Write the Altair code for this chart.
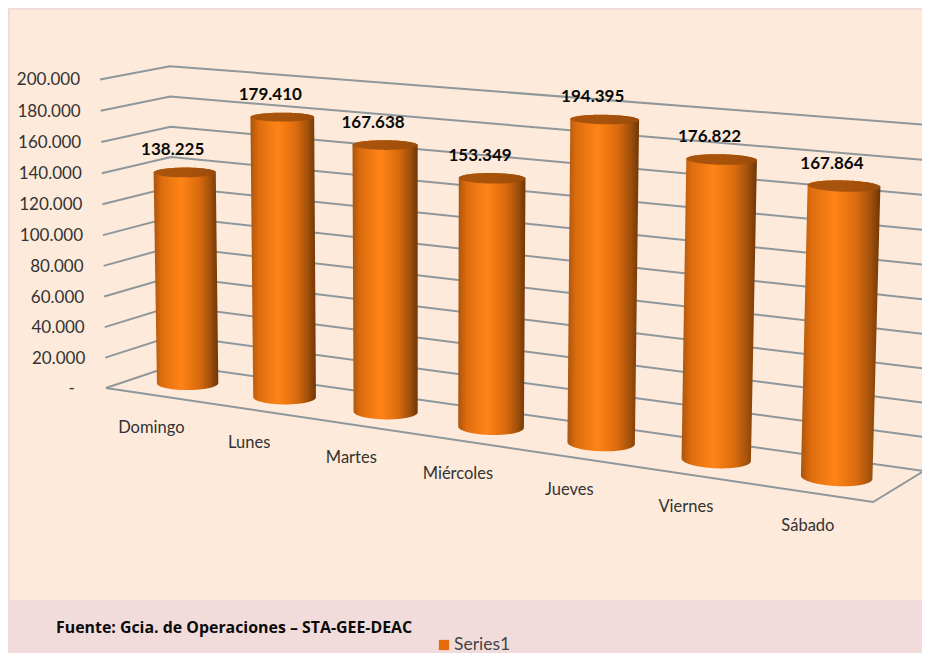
import altair as alt
import numpy as np
import pandas as pd

categories = ["Domingo", "Lunes", "Martes", "Miércoles", "Jueves", "Viernes", "Sábado"]
values = [138225, 179410, 167638, 153349, 194395, 176822, 167864]
value_labels = ["138.225", "179.410", "167.638", "153.349", "194.395", "176.822", "167.864"]
tick_values = [0, 20000, 40000, 60000, 80000, 100000, 120000, 140000, 160000, 180000, 200000]
tick_labels = ["-", "20.000", "40.000", "60.000", "80.000", "100.000", "120.000", "140.000", "160.000", "180.000", "200.000"]
source_text = "Fuente: Gcia. de Operaciones – STA-GEE-DEAC"
legend_text = "Series1"

W, H = 914, 645
PAGE = 8

# Box corners of the 3D scene: (category pos, value, depth) -> picture position
box = [
    ((0, 0, 0), (108, 387)), ((0, 200000, 0), (98, 79.5)),
    ((0, 0, 1), (172, 366)), ((0, 200000, 1), (172, 66)),
    ((7, 0, 1), (924, 470)), ((7, 200000, 1), (934, 125.5)),
    ((7, 0, 0), (873, 503)),
]
rows, rhs = [], []
for (u, v, w), (px, py) in box:
    p = [u, v / 200000, w, 1]
    rows.append(p + [0, 0, 0, 0] + [-px * c for c in p[:3]])
    rhs.append(px)
    rows.append([0, 0, 0, 0] + p + [-py * c for c in p[:3]])
    rhs.append(py)
sol = np.linalg.lstsq(np.array(rows, float), np.array(rhs, float), rcond=None)[0]
M = np.append(sol, 1).reshape(3, 4)


def project(u, v, w):
    u, v, w = np.broadcast_arrays(np.asarray(u, float), np.asarray(v, float) / 200000, np.asarray(w, float))
    q = np.stack([u, v, w, np.ones_like(u)])
    r = M @ q.reshape(4, -1)
    return (r[0] / r[2]).reshape(u.shape), (r[1] / r[2]).reshape(u.shape)


X = alt.X("x:Q", scale=alt.Scale(domain=[PAGE, PAGE + W], range=[0, W]), axis=None)
Y = alt.Y("y:Q", scale=alt.Scale(domain=[PAGE + H, PAGE], range=[H, 0]), axis=None)

layers = []

# panel
panel = pd.DataFrame({"x": [10], "x2": [PAGE + W], "y": [10], "y2": [600]})
layers.append(alt.Chart(panel).mark_rect(color="#FDEADA").encode(X, Y, x2="x2:Q", y2="y2:Q"))

# gridlines
GRID = "#8E979B"
rec = []
for t in tick_values:
    for k, (u, w) in enumerate([(0, 0), (0, 1), (7, 1)]):
        px, py = project(u, t, w)
        rec.append({"x": float(px), "y": float(py), "t": t, "k": k})
for k, (u, w) in enumerate([(0, 0), (7, 0), (7, 1)]):
    px, py = project(u, 0, w)
    rec.append({"x": float(px), "y": float(py), "t": -1, "k": k})
layers.append(
    alt.Chart(pd.DataFrame(rec))
    .mark_line(color=GRID, strokeWidth=2, clip=True)
    .encode(X, Y, detail="t:N", order="k:Q")
)

body_grad = alt.LinearGradient(
    gradient="linear", x1=0, x2=1, y1=0, y2=0,
    stops=[
        alt.GradientStop(offset=0, color="#A9540D"),
        alt.GradientStop(offset=0.12, color="#DD6C0E"),
        alt.GradientStop(offset=0.42, color="#FF8417"),
        alt.GradientStop(offset=0.7, color="#DB6B0E"),
        alt.GradientStop(offset=0.88, color="#A0500C"),
        alt.GradientStop(offset=1, color="#6E3607"),
    ],
)
cap_grad = alt.LinearGradient(
    gradient="linear", x1=0, x2=1, y1=0, y2=0,
    stops=[
        alt.GradientStop(offset=0, color="#A9530C"),
        alt.GradientStop(offset=0.5, color="#A8530B"),
        alt.GradientStop(offset=1, color="#9A4B0A"),
    ],
)


def span(poly_x, poly_y):
    pts = sorted(set(zip(np.round(poly_x, 3).tolist(), np.round(poly_y, 3).tolist())))

    def half(seq, sign):
        h = []
        for p in seq:
            while len(h) > 1:
                a, b = h[-2], h[-1]
                if sign * ((b[0] - a[0]) * (p[1] - a[1]) - (b[1] - a[1]) * (p[0] - a[0])) <= 0:
                    h.pop()
                else:
                    break
            h.append(p)
        return np.array(h)

    lo = half(pts, 1)
    hi = half(pts, -1)
    xs = np.unique(np.concatenate([lo[:, 0], hi[:, 0]]))
    return pd.DataFrame({
        "x": xs,
        "y": np.interp(xs, lo[:, 0], lo[:, 1]),
        "y2": np.interp(xs, hi[:, 0], hi[:, 1]),
    })


RU, RW = 0.27, 0.25
theta = np.linspace(0, 2 * np.pi, 121)
tops = []
for i, val in enumerate(values):
    cu = i + 0.5 + RU * np.cos(theta)
    cw = 0.5 + RW * np.sin(theta)
    bx, by = project(cu, 0, cw)
    tx, ty = project(cu, val, cw)
    layers.append(
        alt.Chart(span(np.r_[bx, tx], np.r_[by, ty]))
        .mark_area(color=body_grad, line=False)
        .encode(X, Y, y2="y2:Q")
    )
    layers.append(
        alt.Chart(span(tx, ty))
        .mark_area(color=cap_grad, line=False)
        .encode(X, Y, y2="y2:Q")
    )
    cx, cy = project(i + 0.5, val, 0.5)
    tops.append((float(cx), float(cy)))

# value labels
vl = pd.DataFrame({
    "x": [p[0] - 12 for p in tops],
    "y": [p[1] - 22 for p in tops],
    "t": value_labels,
})
layers.append(
    alt.Chart(vl)
    .mark_text(font="Lato", fontSize=17, fontWeight="bold", color="#0A0A0A")
    .encode(X, Y, text="t:N")
)

# value axis labels
fx, fy = project(0, np.array(tick_values), 0)
al = pd.DataFrame({
    "x": fx - np.where(np.array(tick_values) == 0, 31, 20),
    "y": fy + 1,
    "t": tick_labels,
})
layers.append(
    alt.Chart(al)
    .mark_text(font="Lato", fontSize=17, color="#333333", align="right")
    .encode(X, Y, text="t:N")
)

# category labels
cx, cy = project(np.arange(7) + 0.5, 0, 0)
cl = pd.DataFrame({"x": cx - 2, "y": cy + 33, "t": categories})
layers.append(
    alt.Chart(cl)
    .mark_text(font="Lato", fontSize=16.5, color="#333333")
    .encode(X, Y, text="t:N")
)

# source note
layers.append(
    alt.Chart(pd.DataFrame({"x": [56], "y": [628], "t": [source_text]}))
    .mark_text(font="Open Sans", fontSize=15.9, fontWeight="bold", color="#0A0A0A", align="left")
    .encode(X, Y, text="t:N")
)

# legend
layers.append(
    alt.Chart(pd.DataFrame({"x": [444], "y": [645], "t": [legend_text]}))
    .mark_square(size=105, color="#E46C0A", opacity=1)
    .encode(X, Y)
)
layers.append(
    alt.Chart(pd.DataFrame({"x": [454], "y": [645], "t": [legend_text]}))
    .mark_text(font="Lato", fontSize=17.5, color="#444444", align="left")
    .encode(X, Y, text="t:N")
)

chart = (
    alt.layer(*layers)
    .properties(
        width=W, height=H, background="#F2DCDB", padding=0,
        autosize=alt.AutoSizeParams(type="none"),
    )
    .configure_view(stroke=None)
)
chart.save("out.html", embed_options={"renderer": "svg", "actions": False})
